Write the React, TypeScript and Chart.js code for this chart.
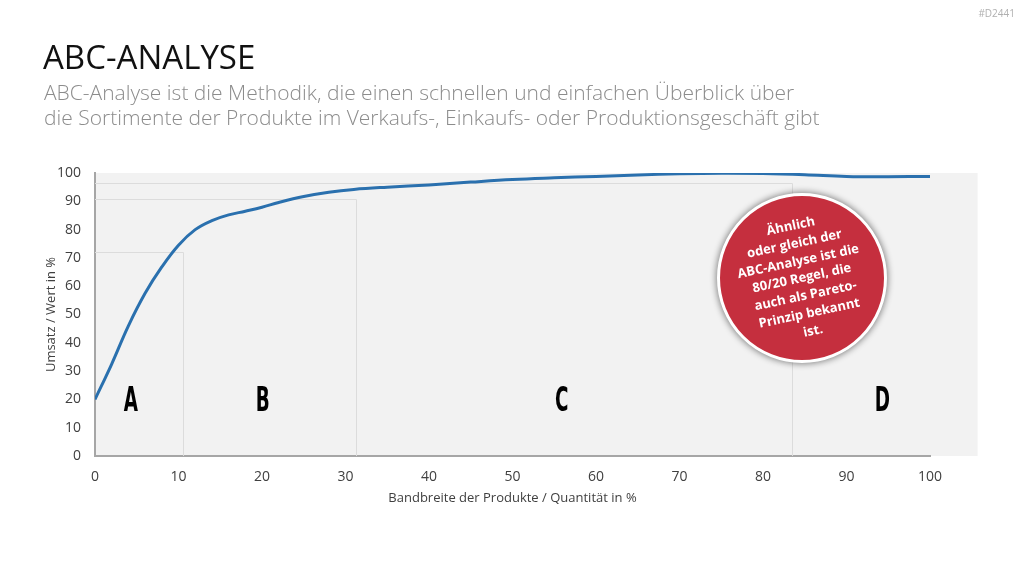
import React, { useEffect, useRef } from "react";
import { Chart, registerables } from "chart.js";

Chart.register(...registerables);

// Curve: cumulative share of value (%) vs share of products (%)
const quantityPct = [0, 2, 4, 6, 8, 10, 12, 14, 16, 18, 20, 22, 25, 28, 31, 35, 40, 45, 50, 55, 60, 65, 70, 75, 80, 85, 90, 95, 100];
const valuePct = [20, 32.5, 46, 57.5, 66.8, 74.5, 80, 83.2, 85.2, 86.5, 87.9, 89.6, 91.7, 93.2, 94.2, 95, 95.8, 96.8, 97.7, 98.3, 98.8, 99.3, 99.7, 99.9, 99.8, 99.4, 98.8, 98.7, 98.8];

// Zone boundaries (x end of zone, y top of zone)
const zoneEnds = [10.5, 31.3, 83.5];
const zoneTops = [72, 90.7, 96.4];

// Zone letters and their positions in data units
const zoneLetters = ["A", "B", "C", "D"];
const letterX = [4.3, 20.1, 55.9, 94.3];
const letterY = [19.1, 19.1, 19.1, 19.1];

const plotBgXMax = 105.7;

const xTickStep = 10;
const yTickStep = 10;

const titleText = "ABC-ANALYSE";
const subtitleLines = [
  "ABC-Analyse ist die Methodik, die einen schnellen und einfachen Überblick über",
  "die Sortimente der Produkte im Verkaufs-, Einkaufs- oder Produktionsgeschäft gibt",
];
const circleLines = ["Ähnlich", "oder gleich der", "ABC-Analyse ist die", "80/20 Regel, die", "auch als Pareto-", "Prinzip bekannt", "ist."];
const xTitle = "Bandbreite der Produkte / Quantität in %";
const yTitle = "Umsatz / Wert in %";

const decorPlugin = {
  id: "decor",
  beforeDraw(chart: any) {
    const { ctx, scales } = chart;
    const x = scales.x, y = scales.y;
    ctx.save();
    ctx.fillStyle = "#f2f2f2";
    const l = x.getPixelForValue(0), r = x.getPixelForValue(plotBgXMax);
    const t = y.getPixelForValue(100), b = y.getPixelForValue(0);
    ctx.fillRect(l, t, r - l, b - t);
    ctx.restore();
  },
  beforeDatasetsDraw(chart: any) {
    const { ctx, scales } = chart;
    const x = scales.x, y = scales.y;
    ctx.save();
    ctx.strokeStyle = "#dcdcdc";
    ctx.lineWidth = 1;
    zoneEnds.forEach((xe, i) => {
      const px = Math.round(x.getPixelForValue(xe)) + 0.5;
      const py = Math.round(y.getPixelForValue(zoneTops[i])) + 0.5;
      const x0 = x.getPixelForValue(0);
      const y0 = y.getPixelForValue(0);
      ctx.beginPath();
      ctx.moveTo(x0, py);
      ctx.lineTo(px, py);
      ctx.lineTo(px, y0);
      ctx.stroke();
    });
    ctx.restore();
  },
  afterDatasetsDraw(chart: any) {
    const { ctx, scales } = chart;
    const x = scales.x, y = scales.y;
    ctx.save();
    ctx.fillStyle = "#000";
    ctx.font = "bold 34px 'DejaVu Sans Condensed', 'DejaVu Sans'";
    ctx.textAlign = "center";
    ctx.textBaseline = "middle";
    zoneLetters.forEach((s, i) => {
      const px = x.getPixelForValue(letterX[i]);
      const py = y.getPixelForValue(letterY[i]);
      ctx.save();
      ctx.translate(px, py);
      ctx.scale(0.6, 1);
      ctx.fillText(s, 0, 0);
      ctx.restore();
    });
    ctx.restore();
  },
};

function ChartCanvas() {
  const ref = useRef<HTMLCanvasElement>(null);
  useEffect(() => {
    if (!ref.current) return;
    const chart = new Chart(ref.current, {
      type: "line",
      data: {
        datasets: [
          {
            data: quantityPct.map((q, i) => ({ x: q, y: valuePct[i] })),
            borderColor: "#2a70ae",
            borderWidth: 3,
            pointRadius: 0,
            tension: 0.4,
            fill: false,
          },
        ],
      },
      options: {
        animation: false,
        responsive: false,
        layout: { padding: { left: 0, right: 94, top: 173, bottom: 60 } },
        plugins: { legend: { display: false }, tooltip: { enabled: false } },
        scales: {
          x: {
            type: "linear",
            min: 0,
            max: 100,
            afterFit: (s: any) => { s.height = 60; },
            grid: { display: false, drawTicks: false },
            border: { display: true, color: "#a6a6a6", width: 2 },
            ticks: { stepSize: xTickStep, padding: 13, color: "#404040", font: { family: "'Open Sans'", size: 14 } },
            title: { display: true, text: xTitle, color: "#404040", font: { family: "'Open Sans'", size: 13 }, padding: { bottom: 10, top: 0 } },
          },
          y: {
            min: 0,
            max: 100,
            afterFit: (s: any) => { s.width = 95; },
            grid: { display: false, drawTicks: false },
            border: { display: true, color: "#a6a6a6", width: 2 },
            ticks: { stepSize: yTickStep, padding: 14, color: "#404040", font: { family: "'Open Sans'", size: 14 } },
            title: { display: true, text: yTitle, color: "#404040", font: { family: "'Open Sans'", size: 13 }, padding: { top: 43, bottom: 0 } },
          },
        },
      },
      plugins: [decorPlugin],
    });
    return () => chart.destroy();
  }, []);
  return <canvas ref={ref} width={1024} height={576} style={{ position: "absolute", left: 0, top: 0, width: 1024, height: 576 }} />;
}

export default function App() {
  return (
    <div style={{ position: "fixed", left: 0, top: 0, width: 1024, height: 576, background: "#fff", overflow: "hidden", fontFamily: "'Open Sans', sans-serif" }}>
      <ChartCanvas />
      <div style={{ position: "absolute", right: 9, top: 6, fontSize: 10, color: "#b0b0b0" }}>#D2441</div>
      <div style={{ position: "absolute", left: 43, top: 34.5, fontSize: 33, lineHeight: "44px", color: "#111", whiteSpace: "nowrap" }}>{titleText}</div>
      <div style={{ position: "absolute", left: 44, top: 80, fontSize: 21, lineHeight: "25px", color: "#8c8c8c", fontWeight: 300, whiteSpace: "nowrap" }}>
        {subtitleLines.map((l, i) => <div key={i}>{l}</div>)}
      </div>
      <div
        style={{
          position: "absolute", left: 717, top: 193, width: 170, height: 170, boxSizing: "border-box",
          borderRadius: "50%", background: "#c52f3e", border: "3px solid #fff",
          boxShadow: "0 0 6px 1px rgba(0,0,0,0.45)", display: "flex", alignItems: "center", justifyContent: "center",
        }}
      >
        <div style={{ transform: "rotate(-12deg)", color: "#fff", fontWeight: 700, fontSize: 13, lineHeight: "17.8px", textAlign: "center", whiteSpace: "nowrap" }}>
          {circleLines.map((l, i) => <div key={i}>{l}</div>)}
        </div>
      </div>
    </div>
  );
}
